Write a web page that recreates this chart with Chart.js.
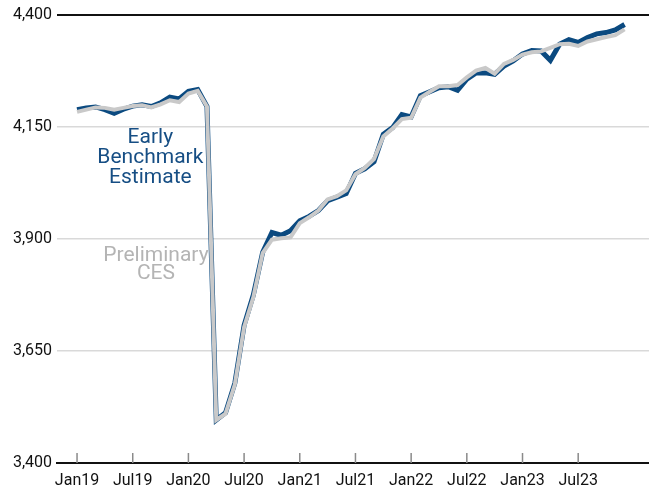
<!DOCTYPE html>
<html>
<head>
<meta charset="utf-8">
<script src="https://cdn.jsdelivr.net/npm/chart.js@4"></script>
<style>
  html, body { margin: 0; padding: 0; background: #fff; }
  #wrap { width: 649px; height: 496px; position: relative; }
</style>
</head>
<body>
<div id="wrap"><canvas id="chart"></canvas></div>
<script>
const months = [
  "Jan19","Feb19","Mar19","Apr19","May19","Jun19","Jul19","Aug19","Sep19","Oct19","Nov19","Dec19",
  "Jan20","Feb20","Mar20","Apr20","May20","Jun20","Jul20","Aug20","Sep20","Oct20","Nov20","Dec20",
  "Jan21","Feb21","Mar21","Apr21","May21","Jun21","Jul21","Aug21","Sep21","Oct21","Nov21","Dec21",
  "Jan22","Feb22","Mar22","Apr22","May22","Jun22","Jul22","Aug22","Sep22","Oct22","Nov22","Dec22",
  "Jan23","Feb23","Mar23","Apr23","May23","Jun23","Jul23","Aug23","Sep23","Oct23","Nov23","Dec23"
];
const tickLabels = ["Jan19","Jul19","Jan20","Jul20","Jan21","Jul21","Jan22","Jul22","Jan23","Jul23"];

// employment, thousands
const earlyBenchmark = [
  4188,4192,4194,4188,4180,4189,4196,4199,4195,4203,4216,4212,
  4229,4233,4195,3496,3512,3578,3707,3775,3870,3914,3908,3918,
  3940,3950,3963,3985,3993,4001,4046,4056,4072,4133,4148,4177,
  4172,4219,4228,4237,4239,4231,4256,4270,4270,4267,4285,4297,
  4312,4320,4319,4298,4334,4344,4338,4349,4357,4360,4366,4378
];
const preliminaryCES = [
  4183,4188,4193,4192,4188,4192,4196,4198,4193,4200,4209,4205,
  4224,4230,4195,3496,3510,3575,3703,3770,3868,3898,3901,3903,
  3935,3948,3963,3988,3995,4008,4044,4058,4078,4128,4146,4167,
  4170,4215,4228,4240,4240,4243,4260,4275,4281,4268,4290,4299,
  4311,4316,4318,4326,4334,4335,4330,4340,4345,4350,4354,4367
];

const blue = "#0b4a80";
const grey = "#c9c9c9";
const font = "Roboto, 'Noto Sans', sans-serif";

function toPoints(arr) {
  return arr.map((v, i) => ({ x: i, y: v }));
}

// small tick marks pointing up into the plot
const innerTicks = {
  id: "innerTicks",
  afterDraw(chart) {
    const ctx = chart.ctx;
    const xs = chart.scales.x;
    const bottom = chart.chartArea.bottom;
    ctx.save();
    ctx.strokeStyle = "#8a8a8a";
    ctx.lineWidth = 1.5;
    tickLabels.forEach(lbl => {
      const px = xs.getPixelForValue(months.indexOf(lbl));
      ctx.beginPath();
      ctx.moveTo(px, bottom);
      ctx.lineTo(px, bottom - 10);
      ctx.stroke();
    });
    ctx.restore();
  }
};

const seriesLabels = {
  id: "seriesLabels",
  afterDatasetsDraw(chart) {
    const ctx = chart.ctx;
    const xs = chart.scales.x, ys = chart.scales.y;
    ctx.save();
    ctx.font = "21px " + font;
    ctx.textAlign = "center";
    ctx.textBaseline = "middle";
    ctx.fillStyle = "#164e84";
    ["Early", "Benchmark", "Estimate"].forEach((t, i) => {
      ctx.fillText(t, xs.getPixelForValue(7.9), ys.getPixelForValue(4126 - i * 44.5));
    });
    ctx.fillStyle = "#b4b4b4";
    ["Preliminary", "CES"].forEach((t, i) => {
      ctx.fillText(t, xs.getPixelForValue(8.5), ys.getPixelForValue(3863 - i * 42));
    });
    ctx.restore();
  }
};

new Chart(document.getElementById("chart").getContext("2d"), {
  type: "line",
  data: {
    datasets: [{
      label: "Early Benchmark Estimate",
      data: toPoints(earlyBenchmark),
      borderColor: blue,
      borderWidth: 5,
      pointRadius: 0,
      tension: 0,
      fill: false,
      order: 1
    }, {
      label: "Preliminary CES",
      data: toPoints(preliminaryCES),
      borderColor: grey,
      borderWidth: 4,
      pointRadius: 0,
      tension: 0,
      fill: false,
      order: 0
    }]
  },
  options: {
    responsive: true,
    maintainAspectRatio: false,
    animation: false,
    layout: { padding: { top: 14, right: 0, left: 0, bottom: 0 } },
    plugins: {
      legend: { display: false },
      tooltip: { enabled: false }
    },
    scales: {
      x: {
        type: "linear",
        min: -2.16,
        max: 61.63,
        afterBuildTicks(scale) {
          scale.ticks = tickLabels.map(l => ({ value: months.indexOf(l) }));
        },
        afterFit(scale) { scale.height = 33; },
        ticks: {
          callback: v => months[v],
          color: "#111",
          font: { family: font, size: 16 },
          padding: 8,
          maxRotation: 0,
          autoSkip: false
        },
        grid: { display: false, drawTicks: false },
        border: { display: true, color: "#111", width: 2 }
      },
      y: {
        min: 3400,
        max: 4400,
        afterBuildTicks(scale) {
          scale.ticks = [3400, 3650, 3900, 4150, 4400].map(v => ({ value: v }));
        },
        afterFit(scale) { scale.width = 57; },
        ticks: {
          callback: v => v.toLocaleString("en-US"),
          color: "#111",
          font: { family: font, size: 16 },
          padding: 5
        },
        grid: {
          drawTicks: false,
          color: ctx => ctx.tick && ctx.tick.value === 4400 ? "#111" : "#d9d9d9",
          lineWidth: ctx => ctx.tick && ctx.tick.value === 4400 ? 2 : 1.5
        },
        border: { display: false }
      }
    }
  },
  plugins: [innerTicks, seriesLabels]
});
</script>
</body>
</html>
